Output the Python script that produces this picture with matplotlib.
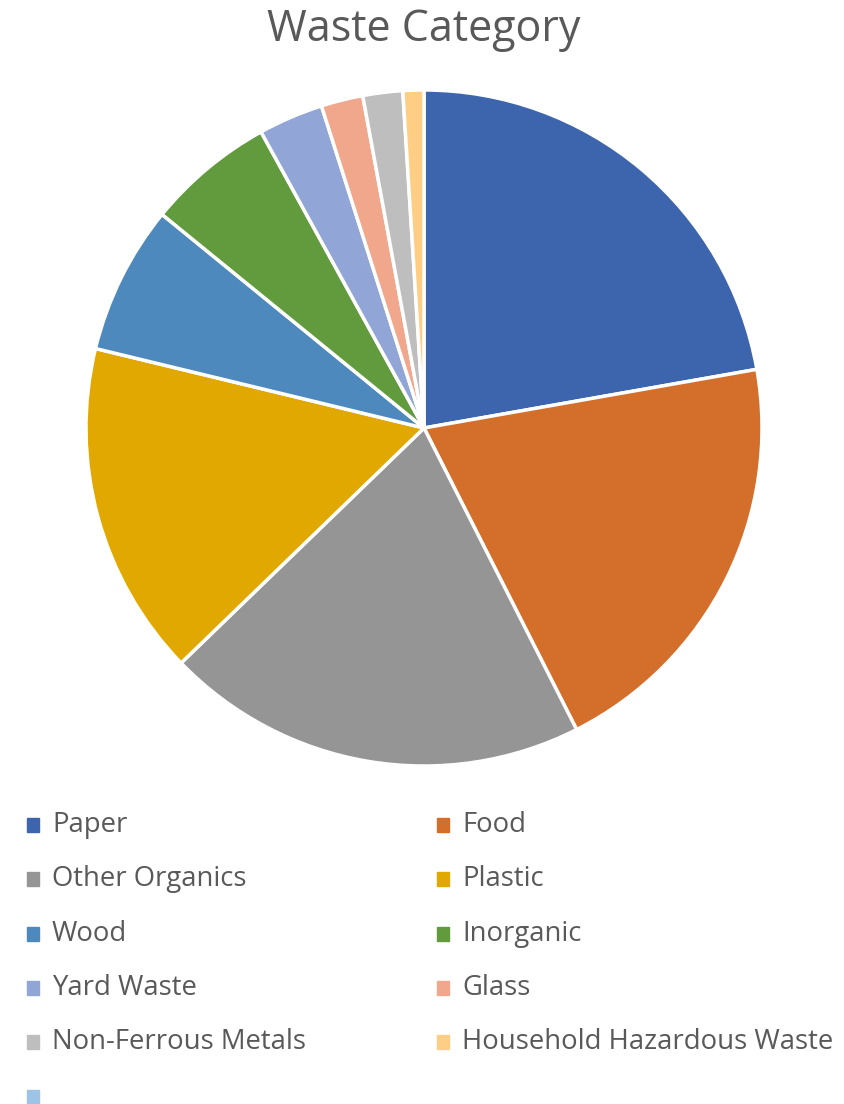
import numpy as np
import matplotlib.pyplot as plt
from matplotlib.patches import Rectangle

categorias = ['Paper', 'Food', 'Other Organics', 'Plastic', 'Wood', 'Inorganic',
              'Yard Waste', 'Glass', 'Non-Ferrous Metals', 'Household Hazardous Waste', '']
valores = [22.2, 20.3, 20.2, 16.0, 7.1, 6.1, 3.1, 2.0, 1.9, 1.0, 0.0]
colores = ['#3D65AD', '#D36F2B', '#959595', '#E0A800', '#4E89BD', '#629B3E',
           '#91A5D6', '#F1A78B', '#BEBEBE', '#FECE84', '#9DC3E6']

W, H = 844, 1104
fig = plt.figure(figsize=(W / 100, H / 100), dpi=100)

# centro y radio del pie en pixeles
cx, cy, r = 424, 428, 338
ax = fig.add_axes([(cx - r) / W, 1 - (cy + r) / H, 2 * r / W, 2 * r / H])

vals = [v for v in valores if v > 0]
cols = [c for v, c in zip(valores, colores) if v > 0]
ax.pie(vals, colors=cols, startangle=90, counterclock=False, radius=1,
       wedgeprops=dict(edgecolor='white', linewidth=2.5))
ax.set_xlim(-1, 1)
ax.set_ylim(-1, 1)
ax.set_aspect('equal')
ax.axis('off')

gris = '#595959'
fig.text(cx / W, 1 - 30 / H, 'Waste Category', ha='center', va='center',
         fontsize=31, color=gris, family=['Open Sans', 'DejaVu Sans'])

# leyenda manual en dos columnas
x_col = [27, 437]
y0, dy = 825, 54.3
sq = 12
for i, (lab, col) in enumerate(zip(categorias, colores)):
    fila, c = divmod(i, 2)
    x = x_col[c]
    y = y0 + fila * dy
    fig.patches.append(Rectangle((x / W, 1 - (y + 7) / H), sq / W, 14 / H,
                                 transform=fig.transFigure, color=col, figure=fig))
    fig.text((x + 25) / W, 1 - y / H, lab, ha='left', va='center',
             fontsize=19.8, color=gris, family=['Open Sans', 'DejaVu Sans'])

plt.savefig('out.png', dpi=100)
